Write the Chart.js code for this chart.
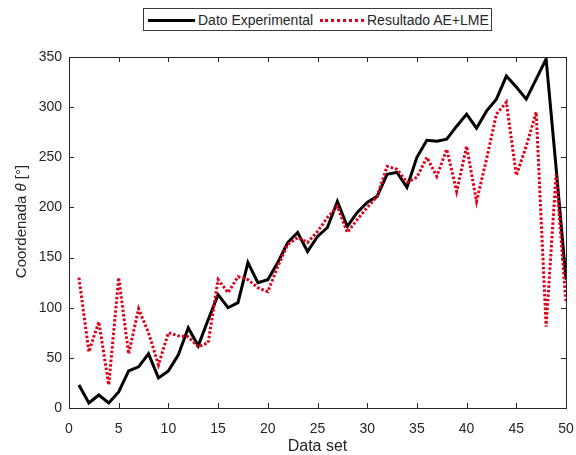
<!DOCTYPE html>
<html>
<head>
<meta charset="utf-8">
<script src="https://cdn.jsdelivr.net/npm/chart.js@4/dist/chart.umd.min.js"></script>
<style>
  body { margin: 0; background: #fff; }
  #wrap { position: relative; width: 576px; height: 455px; }
  #legend {
    position: absolute; left: 143px; top: 8px; width: 347px; height: 21px;
    border: 1px solid #3a3a3a; background: #fff;
    font: 14px "Liberation Sans", Arial, sans-serif; color: #262626;
  }
  #legend span.txt { position: absolute; top: 3px; white-space: nowrap; }
  #legend span.ln { position: absolute; top: 10px; height: 0; }
</style>
</head>
<body>
<div id="wrap">
  <canvas id="myChart" width="576" height="455"></canvas>
  <div id="legend">
    <span class="ln" style="left:4px;width:47px;border-top:3px solid #000;"></span>
    <span class="txt" style="left:54px;">Dato Experimental</span>
    <span class="ln" style="left:176px;width:44px;border-top:3px dotted #e0001b;"></span>
    <span class="txt" style="left:223px;">Resultado AE+LME</span>
  </div>
</div>
<script>
// 데이터
var dataSet = [1,2,3,4,5,6,7,8,9,10,11,12,13,14,15,16,17,18,19,20,21,22,23,24,25,
	26,27,28,29,30,31,32,33,34,35,36,37,38,39,40,41,42,43,44,45,46,47,48,49,50];
var datoExperimental = [23,5,13,5,16,37,41,54,30,37,53,80,62,88,113,100,105,145,125,128,
	145,165,175,156,171,180,206,181,195,205,211,233,235,220,250,267,266,268,281,293,
	279,296,308,331,320,308,328,348,240,128];
var resultadoAeLme = [130,56,86,23,130,54,99,75,43,75,72,71,61,65,128,115,131,128,120,116,
	141,163,170,165,176,190,201,175,188,200,211,241,238,225,230,250,231,258,216,261,
	206,248,293,305,232,261,295,81,233,105];
var xTicks = [0,5,10,15,20,25,30,35,40,45,50];
var yTicks = [0,50,100,150,200,250,300,350];

var axisColor = '#262626';
var fontFamily = '"Liberation Sans", Arial, sans-serif';

function toPoints(ys) {
	return dataSet.map(function(x, i) { return { x: x, y: ys[i] }; });
}

//MATLAB 스타일 박스 + 안쪽 눈금 + y축 제목(θ 이탤릭)
var boxPlugin = {
	id: 'boxPlugin',
	afterDraw: function(chart) {
		var ctx = chart.ctx;
		var a = chart.chartArea;
		var xs = chart.scales.x, ys = chart.scales.y;
		var tl = 5;
		ctx.save();
		ctx.strokeStyle = axisColor;
		ctx.lineWidth = 1;
		ctx.beginPath();
		xTicks.forEach(function(v) {
			var px = Math.round(xs.getPixelForValue(v)) + 0.5;
			ctx.moveTo(px, a.bottom); ctx.lineTo(px, a.bottom - tl);
			ctx.moveTo(px, a.top); ctx.lineTo(px, a.top + tl);
		});
		yTicks.forEach(function(v) {
			var py = Math.round(ys.getPixelForValue(v)) + 0.5;
			ctx.moveTo(a.left, py); ctx.lineTo(a.left + tl, py);
			ctx.moveTo(a.right, py); ctx.lineTo(a.right - tl, py);
		});
		ctx.stroke();
		ctx.strokeRect(Math.round(a.left) + 0.5, Math.round(a.top) + 0.5,
			Math.round(a.right - a.left), Math.round(a.bottom - a.top));

		// y축 제목
		var parts = [
			{ t: 'Coordenada ', f: '15px ' + fontFamily },
			{ t: 'θ', f: 'italic 15px ' + fontFamily },
			{ t: ' [°]', f: '15px ' + fontFamily }
		];
		var total = 0;
		parts.forEach(function(p) { ctx.font = p.f; p.w = ctx.measureText(p.t).width; total += p.w; });
		ctx.translate(22, (a.top + a.bottom) / 2 - 11);
		ctx.rotate(-Math.PI / 2);
		ctx.fillStyle = axisColor;
		ctx.textBaseline = 'middle';
		ctx.textAlign = 'left';
		var x0 = -total / 2;
		parts.forEach(function(p) { ctx.font = p.f; ctx.fillText(p.t, x0, 0); x0 += p.w; });
		ctx.restore();
	}
};

const ctx = document.getElementById('myChart');

var myChart = new Chart(ctx, {
	type: 'line',
	data: {
		datasets: [{
			label: 'Dato Experimental',
			data: toPoints(datoExperimental),
			borderColor: '#000000',
			borderWidth: 3,
			pointRadius: 0,
			tension: 0,
			order: 2
		}, {
			label: 'Resultado AE+LME',
			data: toPoints(resultadoAeLme),
			borderColor: '#e0001b',
			borderWidth: 3,
			borderDash: [2.5, 2],
			borderCapStyle: 'butt',
			pointRadius: 0,
			tension: 0,
			order: 1
		}]
	},
	options: {
		responsive: false,
		animation: false,
		layout: { padding: { left: 0, right: 10, top: 57, bottom: 0 } },
		plugins: {
			legend: { display: false },
			tooltip: { enabled: false }
		},
		scales: {
			x: {
				type: 'linear',
				min: 0, max: 50,
				afterBuildTicks: function(s) { s.ticks = xTicks.map(function(v) { return { value: v }; }); },
				afterFit: function(s) { s.height = 47; s.paddingLeft = 0; s.paddingRight = 0; },
				grid: { display: false, drawTicks: false },
				border: { display: false },
				ticks: { color: axisColor, padding: 13, maxRotation: 0, font: { family: fontFamily, size: 14 } },
				title: { display: true, text: 'Data set', color: axisColor, padding: { top: 0, bottom: 0 },
					font: { family: fontFamily, size: 16, lineHeight: 1 } }
			},
			y: {
				min: 0, max: 350,
				afterBuildTicks: function(s) { s.ticks = yTicks.map(function(v) { return { value: v }; }); },
				afterFit: function(s) { s.width = 69; s.paddingTop = 0; s.paddingBottom = 0; },
				grid: { display: false, drawTicks: false },
				border: { display: false },
				ticks: { color: axisColor, padding: 7, font: { family: fontFamily, size: 14 } },
				title: { display: false }
			}
		}
	},
	plugins: [boxPlugin]
});
</script>
</body>
</html>
